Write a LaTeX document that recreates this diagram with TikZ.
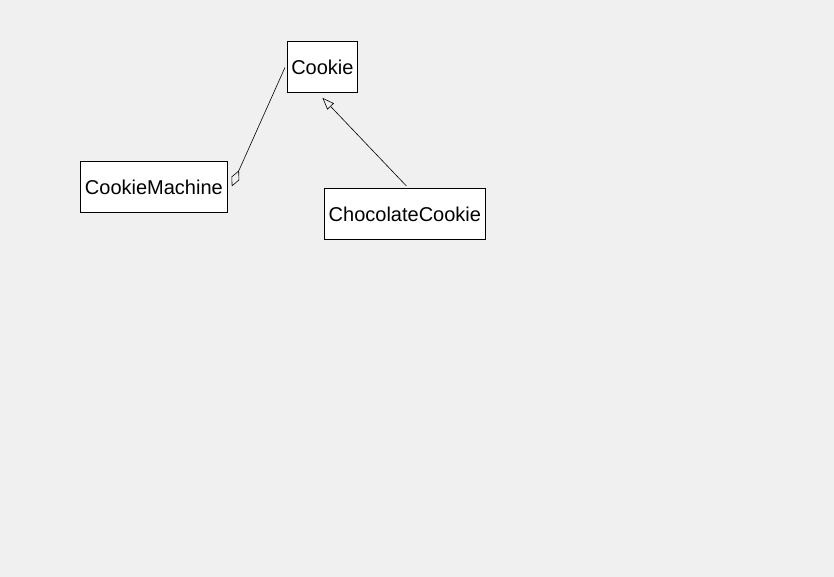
\documentclass[tikz,border=0pt]{standalone}
\usepackage{fontspec}
\setmainfont{Liberation Sans}
\usetikzlibrary{arrows.meta,calc}
\definecolor{bg}{HTML}{F0F0F0}
\begin{document}
\begin{tikzpicture}[x=1pt,y=-1pt,
  cls/.style={draw=black,fill=white,line width=0.8pt,inner sep=0pt,font=\fontsize{20}{22}\selectfont,anchor=north west},
  conn/.style={line width=0.6pt,black},
  aggr/.style={conn,{Diamond[open,length=17.5pt,width=8.5pt,line width=0.6pt]}-},
  gen/.style={conn,-{Triangle[open,length=12pt,width=9pt,line width=0.6pt]}}]
\fill[bg] (0,0) rectangle (834,577);
\useasboundingbox (0,0) rectangle (834,577);
\node[cls,minimum width=70pt,minimum height=51pt] (Cookie) at (287,41) {Cookie};
\node[cls,minimum width=147pt,minimum height=51pt] (CM) at (80,161) {CookieMachine};
\node[cls,minimum width=161pt,minimum height=51pt] (CC) at (324,188) {ChocolateCookie};
\draw[aggr] ($(CM.east)+(4,-0.5)$) -- ($(Cookie.west)+(-2,0.5)$);
\draw[gen] ($(CC.north)+(1.5,-2)$) -- ($(Cookie.south)+(0,5)$);
\end{tikzpicture}
\end{document}
